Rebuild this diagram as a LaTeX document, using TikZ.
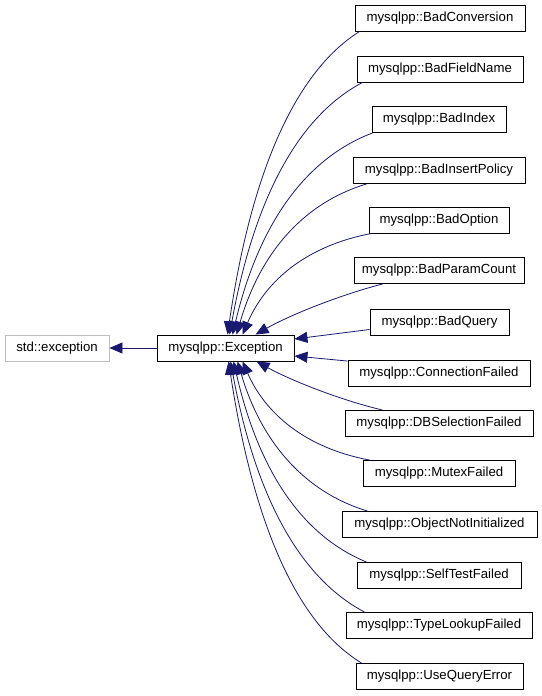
\documentclass[tikz,border=0pt]{standalone}
\usepackage{fontspec}
\setmainfont{Liberation Sans}
\usetikzlibrary{arrows.meta}
\definecolor{edgeblue}{HTML}{191970}
\definecolor{graybox}{HTML}{BFBFBF}
\begin{document}
\begin{tikzpicture}[x=1pt,y=-1pt,
  cls/.style={draw=black, line width=0.9pt, fill=white, minimum height=26pt, inner sep=0pt, font=\fontsize{13.2}{15}\selectfont},
  ext/.style={cls, draw=graybox},
  inh/.style={draw=edgeblue, line width=0.8pt, {Triangle[length=13pt,width=11pt]}-}
]
\useasboundingbox (0,0) rectangle (541,696);
\fill[white] (0,0) rectangle (541,696);

\node[ext, minimum width=104pt] (std) at (57,348) {std::exception};
\node[cls, minimum width=137pt] (exc) at (225.5,348) {mysqlpp::Exception};

\node[cls, minimum width=170pt] (c1) at (440,18) {mysqlpp::BadConversion};
\node[cls, minimum width=166pt] (c2) at (440,69) {mysqlpp::BadFieldName};
\node[cls, minimum width=134pt] (c3) at (439,119.5) {mysqlpp::BadIndex};
\node[cls, minimum width=172pt] (c4) at (439,170.5) {mysqlpp::BadInsertPolicy};
\node[cls, minimum width=140pt] (c5) at (439,220) {mysqlpp::BadOption};
\node[cls, minimum width=170pt] (c6) at (439,270.5) {mysqlpp::BadParamCount};
\node[cls, minimum width=139pt] (c7) at (439.5,322.5) {mysqlpp::BadQuery};
\node[cls, minimum width=182pt] (c8) at (439,373.5) {mysqlpp::ConnectionFailed};
\node[cls, minimum width=188pt] (c9) at (439,423.5) {mysqlpp::DBSelectionFailed};
\node[cls, minimum width=152pt] (c10) at (439,473.5) {mysqlpp::MutexFailed};
\node[cls, minimum width=195pt] (c11) at (439.5,524.5) {mysqlpp::ObjectNotInitialized};
\node[cls, minimum width=164pt] (c12) at (439,575.5) {mysqlpp::SelfTestFailed};
\node[cls, minimum width=186pt] (c13) at (439,625.5) {mysqlpp::TypeLookupFailed};
\node[cls, minimum width=167pt] (c14) at (439.5,676.5) {mysqlpp::UseQueryError};

% base class
\draw[inh] (std.east) -- (exc.west);

% upper children
\draw[inh] ([xshift=71pt]exc.north west) .. controls (250,180) and (292,74) .. ([xshift=5pt]c1.south west);
\draw[inh] ([xshift=73pt]exc.north west) .. controls (253,205) and (295,118) .. ([xshift=6pt]c2.south west);
\draw[inh] ([xshift=76pt]exc.north west) .. controls (257,231) and (301,160) .. ([xshift=1pt]c3.south west);
\draw[inh] ([xshift=80pt]exc.north west) .. controls (259,257) and (300,204) .. ([xshift=14pt]c4.south west);
\draw[inh] ([xshift=86pt]exc.north west) .. controls (265,282) and (305,246) .. ([xshift=3pt]c5.south west);
\draw[inh] ([xshift=99pt]exc.north west) .. controls (290,315) and (340,295) .. ([xshift=29pt]c6.south west);

% side children
\draw[inh] ([yshift=9pt]exc.east) -- ([yshift=-7pt]c7.west);
\draw[inh] ([yshift=-8pt]exc.east) -- ([yshift=-1pt]c8.north west);

% lower children
\draw[inh] ([xshift=100pt]exc.south west) .. controls (290,380) and (340,400) .. ([xshift=38pt]c9.north west);
\draw[inh] ([xshift=86pt]exc.south west) .. controls (265,413) and (305,448) .. ([xshift=7pt]c10.north west);
\draw[inh] ([xshift=81pt]exc.south west) .. controls (260,438) and (301,491) .. ([xshift=26pt]c11.north west);
\draw[inh] ([xshift=77pt]exc.south west) .. controls (257,464) and (298,534) .. ([xshift=10pt]c12.north west);
\draw[inh] ([xshift=74pt]exc.south west) .. controls (254,489) and (296,576) .. ([xshift=19pt]c13.north west);
\draw[inh] ([xshift=72pt]exc.south west) .. controls (252,515) and (293,621) .. ([xshift=6pt]c14.north west);
\end{tikzpicture}
\end{document}
